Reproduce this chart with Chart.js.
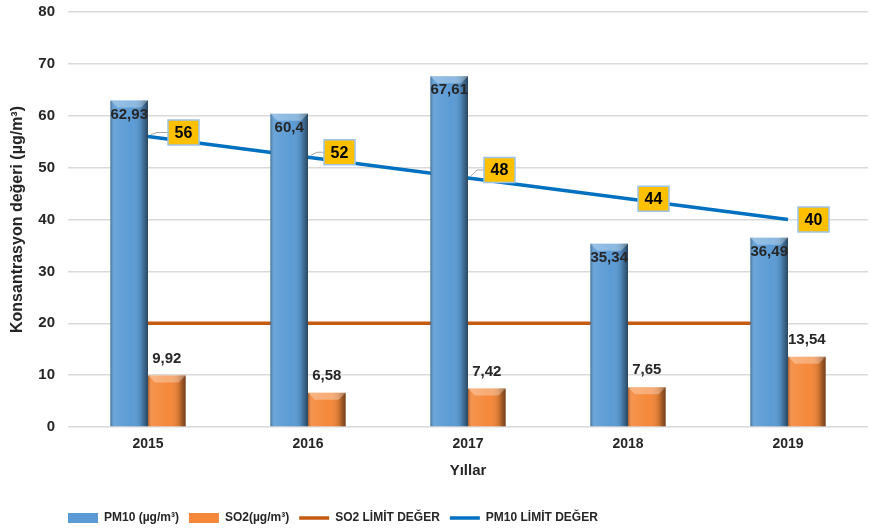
<!DOCTYPE html>
<html>
<head>
<meta charset="utf-8">
<script src="https://cdn.jsdelivr.net/npm/chart.js@4"></script>
<style>
  html, body { margin: 0; padding: 0; background: #fff; }
  #wrap { width: 870px; height: 532px; }
</style>
</head>
<body>
<div id="wrap"><canvas id="myChart"></canvas></div>
<script>
// Yearly concentrations (µg/m³)
const years = ['2015', '2016', '2017', '2018', '2019'];
const pm10 = [62.93, 60.4, 67.61, 35.34, 36.49];
const so2 = [9.92, 6.58, 7.42, 7.65, 13.54];
const so2Limit = [20, 20, 20, 20, 20];
const pm10Limit = [56, 52, 48, 44, 40];
const yTicks = [0, 10, 20, 30, 40, 50, 60, 70, 80];

const FONT = '"Liberation Sans", Arial, sans-serif';
const TEXT = '#262626';

function fmt(v) { return String(v).replace('.', ','); }

// 3D-ish shading on top of the flat bars
const bevelPlugin = {
  id: 'bevel',
  afterDatasetDraw(chart, args) {
    const meta = args.meta;
    if (meta.type !== 'bar') return;
    const ctx = chart.ctx;
    ctx.save();
    meta.data.forEach(el => {
      const w = el.width, l = el.x - w / 2, top = el.y, h = el.base - el.y;
      const g = ctx.createLinearGradient(l, 0, l + w, 0);
      g.addColorStop(0, 'rgba(0,0,0,0.3)');
      g.addColorStop(0.1, 'rgba(255,255,255,0.1)');
      g.addColorStop(0.55, 'rgba(255,255,255,0)');
      g.addColorStop(0.8, 'rgba(0,0,0,0.12)');
      g.addColorStop(1, 'rgba(0,0,0,0.55)');
      ctx.fillStyle = g;
      ctx.fillRect(l, top, w, h);
      // top bevel
      const b = Math.min(7, h / 2);
      ctx.fillStyle = 'rgba(255,255,255,0.3)';
      ctx.beginPath();
      ctx.moveTo(l, top);
      ctx.lineTo(l + w, top);
      ctx.lineTo(l + w - b, top + b);
      ctx.lineTo(l + b, top + b);
      ctx.closePath();
      ctx.fill();
    });
    ctx.restore();
  }
};

// value labels and PM10 limit callouts
const labelPlugin = {
  id: 'valueLabels',
  afterDatasetsDraw(chart) {
    const ctx = chart.ctx;
    ctx.save();
    ctx.textAlign = 'center';
    ctx.textBaseline = 'middle';
    ctx.font = 'bold 15px ' + FONT;
    ctx.fillStyle = TEXT;
    chart.getDatasetMeta(0).data.forEach((el, i) => {
      ctx.fillText(fmt(pm10[i]), el.x, el.y + 14);
    });
    chart.getDatasetMeta(1).data.forEach((el, i) => {
      ctx.fillText(fmt(so2[i]), el.x, el.y - 17);
    });

    const offs = [[20, -4], [16, -5], [16, -8], [10, 0], [10, 0]];
    const bw = 31, bh = 25;
    chart.getDatasetMeta(3).data.forEach((el, i) => {
      const bx = el.x + offs[i][0];
      const cy = el.y + offs[i][1];
      if (i < 3) {
        ctx.strokeStyle = '#a6a6a6';
        ctx.lineWidth = 1;
        ctx.beginPath();
        ctx.moveTo(el.x + 3, el.y - 2);
        ctx.lineTo(el.x + 9, cy);
        ctx.lineTo(bx, cy);
        ctx.stroke();
      }
      ctx.fillStyle = '#ffc000';
      ctx.fillRect(bx, cy - bh / 2, bw, bh);
      ctx.strokeStyle = '#9dc3e6';
      ctx.lineWidth = 1.5;
      ctx.strokeRect(bx, cy - bh / 2, bw, bh);
      ctx.fillStyle = '#000';
      ctx.font = 'bold 16px ' + FONT;
      ctx.fillText(String(pm10Limit[i]), bx + bw / 2, cy + 1);
    });
    ctx.restore();
  }
};

// push the legend row to start under the plot area
const legendShift = {
  id: 'legendShift',
  afterLayout(chart) {
    const lg = chart.legend;
    if (lg) { const d = 58 - lg.left; lg.left += d; lg.right += d; lg.top += 2; lg.bottom += 2; }
  }
};

const config = {
  data: {
    labels: years,
    datasets: [
      {
        type: 'bar', label: 'PM10 (µg/m³)', data: pm10,
        backgroundColor: '#5b9bd5', borderWidth: 0, order: 1,
        pointStyle: 'rect',
        categoryPercentage: 0.47, barPercentage: 1.0,
      },
      {
        type: 'bar', label: 'SO2(µg/m³)', data: so2,
        backgroundColor: '#f5883a', borderWidth: 0, order: 1,
        pointStyle: 'rect',
        categoryPercentage: 0.47, barPercentage: 1.0,
      },
      {
        type: 'line', label: 'SO2 LİMİT DEĞER', data: so2Limit,
        borderColor: '#c55a11', backgroundColor: '#c55a11', borderWidth: 3.5,
        pointRadius: 0, pointStyle: 'line', order: 2, tension: 0,
      },
      {
        type: 'line', label: 'PM10 LİMİT DEĞER', data: pm10Limit,
        borderColor: '#0070c0', backgroundColor: '#0070c0', borderWidth: 3.5,
        pointRadius: 0, pointStyle: 'line', order: 2, tension: 0,
      },
    ]
  },
  options: {
    responsive: true,
    maintainAspectRatio: false,
    animation: false,
    layout: { padding: { left: 4, right: 2, top: 12, bottom: 0 } },
    plugins: {
      legend: {
        position: 'bottom',
        align: 'start',
        labels: {
          usePointStyle: true,
          pointStyleWidth: 30,
          boxHeight: 10,
          padding: 10,
          color: TEXT,
          font: { family: FONT, size: 12, weight: 'bold' },
        }
      },
      tooltip: { enabled: false },
    },
    scales: {
      x: {
        grid: { display: false, drawTicks: false },
        border: { display: false },
        ticks: { color: TEXT, padding: 9, font: { family: FONT, size: 14, weight: 'bold' } },
        title: {
          display: true, text: 'Yıllar', color: TEXT,
          padding: { top: 0, bottom: 20 },
          font: { family: FONT, size: 15, weight: 'bold' },
        },
        afterFit(scale) { scale.height = 73; },
      },
      y: {
        min: 0, max: 80,
        afterBuildTicks(scale) { scale.ticks = yTicks.map(v => ({ value: v })); },
        grid: { color: '#d9d9d9', lineWidth: 1.5, drawTicks: false },
        border: { display: false },
        ticks: { color: TEXT, padding: 13, font: { family: FONT, size: 15, weight: 'bold' } },
        title: {
          display: true, text: 'Konsantrasyon değeri (µg/m³)', color: TEXT,
          padding: { top: 4, bottom: 0 },
          font: { family: FONT, size: 16, weight: 'bold' },
        },
        afterFit(scale) {
          scale.width = 64;
          scale.paddingTop = 0;
          scale.paddingBottom = 0;
        },
      }
    }
  },
  plugins: [bevelPlugin, labelPlugin, legendShift],
};

const myChart = new Chart(document.getElementById('myChart').getContext('2d'), config);
</script>
</body>
</html>
